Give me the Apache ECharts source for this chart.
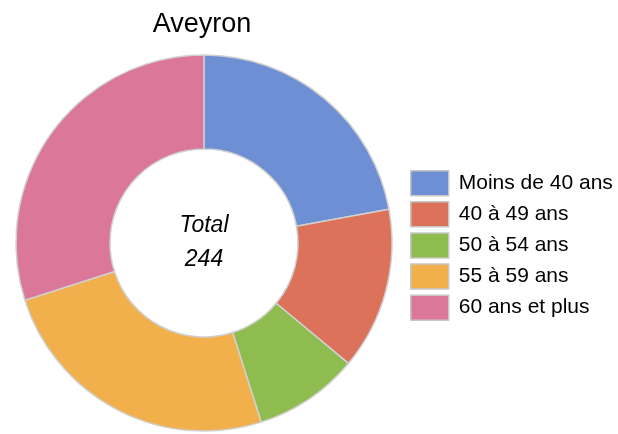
<!DOCTYPE html>
<html><head><meta charset="utf-8">
<script src="https://cdn.jsdelivr.net/npm/echarts@6/dist/echarts.min.js"></script>
<style>html,body{margin:0;padding:0;background:#fff}#c{width:618px;height:434px}</style>
</head><body><div id="c"></div>
<script>
var categories = ["Moins de 40 ans", "40 à 49 ans", "50 à 54 ans", "55 à 59 ans", "60 ans et plus"];
var values = [54, 34, 22, 61, 73];
var colors = ["#6E8FD3", "#DC725A", "#8FBC4E", "#F2B04D", "#DB7799"];
var titleText = "Aveyron";
var totalLabel = "Total";
var total = values.reduce(function(a,b){return a+b;},0);

var chart = echarts.init(document.getElementById('c'), null, {renderer:'canvas'});
chart.setOption({
  animation:false,
  title:{text:titleText,left:202,top:11,textAlign:'center',padding:0,
    textStyle:{fontFamily:'Liberation Sans, Arial',fontSize:27,fontWeight:'normal',color:'#000'}},
  legend:{orient:'vertical',left:410,top:170,padding:0,itemWidth:38,itemHeight:25,itemGap:4.6,
    icon:'rect',
    textStyle:{fontFamily:'Liberation Sans, Arial',fontSize:21,color:'#000',padding:[0,0,0,5]},
    itemStyle:{borderColor:'#c8c8c8',borderWidth:1.5},
    data:categories},
  graphic:[
    {type:'text',position:[204,226],style:{text:totalLabel,font:'italic 23px Liberation Sans, Arial',fill:'#000',textAlign:'center',textVerticalAlign:'middle'}},
    {type:'text',position:[204,260],style:{text:String(total),font:'italic 23px Liberation Sans, Arial',fill:'#000',textAlign:'center',textVerticalAlign:'middle'}}
  ],
  series:[{type:'pie',center:[204,243],radius:[94,188],startAngle:90,clockwise:true,
    label:{show:false},labelLine:{show:false},emphasis:{disabled:true},
    itemStyle:{borderColor:'#d0d0d0',borderWidth:1.5},
    data:categories.map(function(c,i){return {name:c,value:values[i],itemStyle:{color:colors[i]}};})
  }]
});
</script></body></html>
